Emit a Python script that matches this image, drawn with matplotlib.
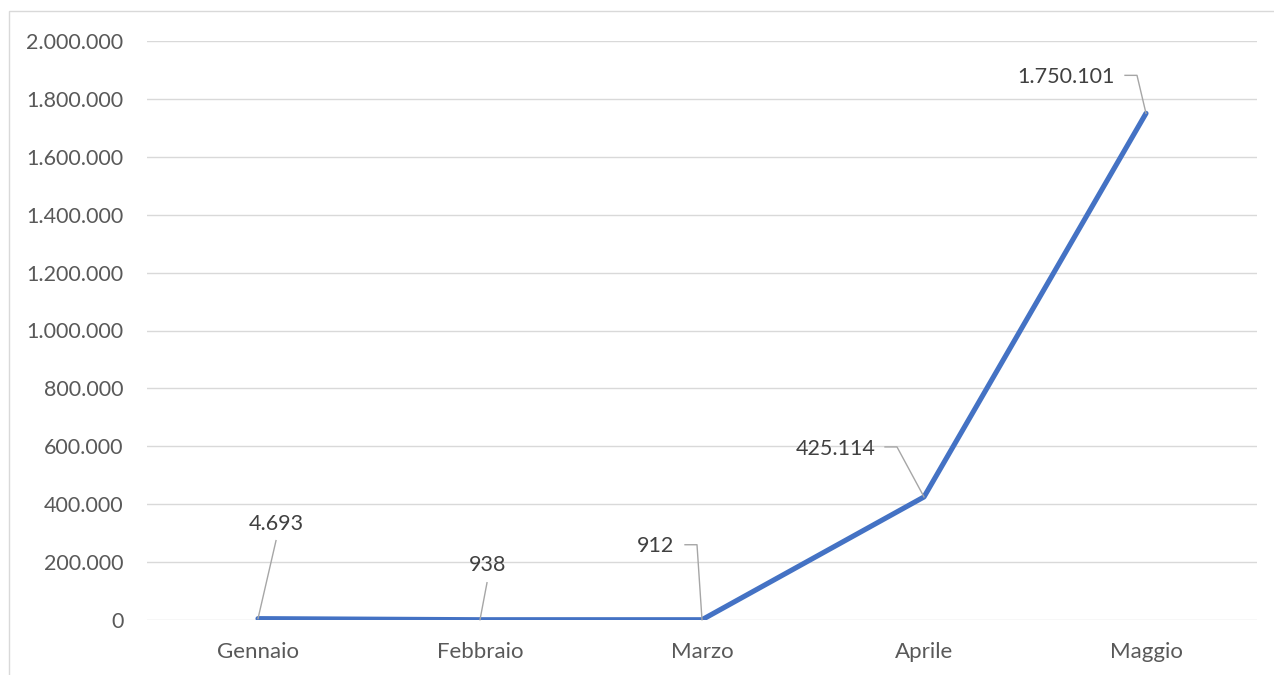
import matplotlib
matplotlib.use("Agg")
import matplotlib.pyplot as plt
from matplotlib.patches import Rectangle

months = ["Gennaio", "Febbraio", "Marzo", "Aprile", "Maggio"]
values = [4693, 938, 912, 425114, 1750101]
value_labels = ["4.693", "938", "912", "425.114", "1.750.101"]
y_ticks = [0, 200000, 400000, 600000, 800000, 1000000, 1200000, 1400000,
           1600000, 1800000, 2000000]
y_tick_labels = ["0", "200.000", "400.000", "600.000", "800.000", "1.000.000",
                 "1.200.000", "1.400.000", "1.600.000", "1.800.000", "2.000.000"]

plt.rcParams['font.family'] = ['Lato', 'DejaVu Sans']

fig = plt.figure(figsize=(12.74, 6.75), dpi=100)
fig.patches.append(Rectangle((8.5 / 1274, -0.1), 1.2, 1.1 - 11.5 / 675,
                             transform=fig.transFigure, fill=False,
                             edgecolor="#d9d9d9", linewidth=1.0))
ax = fig.add_axes([147 / 1274, 1 - 620 / 675, 1110 / 1274, 579 / 675])

x = list(range(len(months)))
ax.plot(x, values, color="#4472C4", linewidth=3.7, solid_capstyle="round",
        solid_joinstyle="round", zorder=3)

ax.set_xlim(-0.5, len(months) - 0.5)
ax.set_ylim(0, 2000000)
ax.set_yticks(y_ticks)
ax.set_yticklabels(y_tick_labels)
ax.set_xticks(x)
ax.set_xticklabels(months)
ax.grid(axis="y", color="#d9d9d9", linewidth=1.0)
ax.set_axisbelow(True)
for s in ax.spines.values():
    s.set_visible(False)
ax.tick_params(axis="y", length=0, labelsize=15.5, colors="#595959", pad=17)
ax.tick_params(axis="x", length=0, labelsize=16, colors="#595959", pad=16)

# label offsets (pixels) and leader-line shapes
label_offsets = [(18, 95), (8, 55), (-46, 74), (-88, 48), (-80, 36)]
leaders = [
    [(18, 78), (0, 0)],
    [(7, 37), (0, 0)],
    [(-17, 75), (-5, 75), (0, 0)],
    [(-39, 50), (-27, 50), (0, 0)],
    [(-21, 38), (-9, 38), (0, 0)],
]
inv = ax.transData.inverted()
for xi, v, lab, off, lead in zip(x, values, value_labels, label_offsets, leaders):
    ax.annotate(lab, (xi, v), xytext=off, textcoords="offset pixels",
                ha="center", va="center", fontsize=15.5, color="#404040",
                zorder=5)
    base = ax.transData.transform((xi, v))
    pts_x, pts_y = [], []
    for dx, dy in lead:
        dxy = inv.transform((base[0] + dx, base[1] + dy))
        pts_x.append(dxy[0])
        pts_y.append(dxy[1])
    ax.plot(pts_x, pts_y, color="#a6a6a6", linewidth=1.0, zorder=4,
            clip_on=False)

fig.savefig("out.png", dpi=100)
